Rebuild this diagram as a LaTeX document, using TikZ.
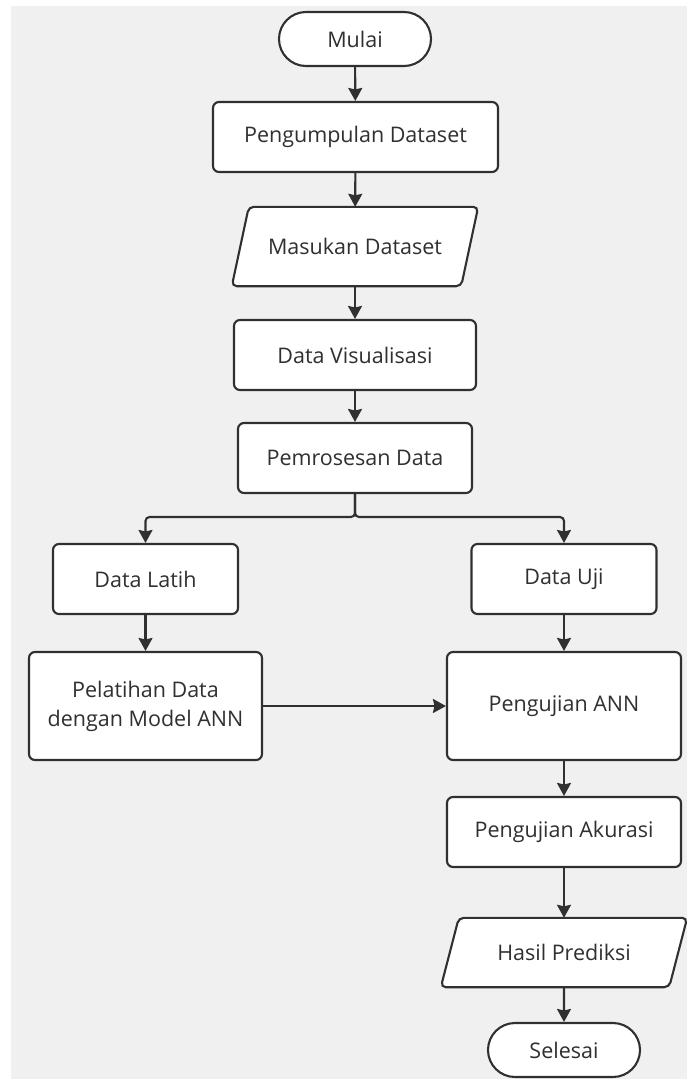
\documentclass[tikz,border=0pt]{standalone}
\usepackage{fontspec}
\setmainfont{Open Sans}
\usetikzlibrary{arrows.meta,shapes.misc,calc}
\definecolor{ink}{RGB}{48,48,48}
\definecolor{canvas}{RGB}{240,240,240}
\tikzset{
  base/.style={draw=ink, line width=2.1pt, fill=white, text=ink,
    font=\fontsize{21.5pt}{29pt}\selectfont, align=center, inner sep=0pt},
  procbox/.style={base, rectangle, rounded corners=6pt},
  term/.style={base, rounded rectangle, minimum width=152pt, minimum height=54pt},
  iobox/.style={rectangle, text=ink, font=\fontsize{21.5pt}{29pt}\selectfont,
    align=center, inner sep=0pt},
  arr/.style={draw=ink, line width=2.1pt,
    -{Stealth[length=13pt,width=14pt,inset=1.5pt]}},
}
% parallelogram outline around a named text node
\newcommand{\ioshape}[2]{%
  \draw[draw=ink, line width=2.1pt, fill=white, rounded corners=5pt]
    ($(#1.north west)+(#2,0)$) -- (#1.north east) --
    ($(#1.south east)-(#2,0)$) -- (#1.south west) -- cycle;}
\begin{document}
\begin{tikzpicture}[x=1pt,y=-1pt]
  \useasboundingbox (0,0) rectangle (687,1079);
  \fill[white] (0,0) rectangle (687,1079);
  \fill[canvas] (11,6) rectangle (687,1079);

  % main column
  \node[term] (mulai) at (355,39) {Mulai};
  \node[procbox, minimum width=285pt, minimum height=70pt] (kumpul) at (355.5,137) {Pengumpulan Dataset};
  \node[iobox, minimum width=246pt, minimum height=79pt] (masuk) at (355,246.5) {};
  \ioshape{masuk}{17}
  \node[iobox] at (masuk) {Masukan Dataset};
  \node[procbox, minimum width=242pt, minimum height=70pt] (visual) at (355,355) {Data Visualisasi};
  \node[procbox, minimum width=234pt, minimum height=70pt] (proses) at (355,458) {Pemrosesan Data};

  % split into training and testing branches
  \coordinate (split) at (355,517);
  \node[procbox, minimum width=185pt, minimum height=70pt] (latih) at (145.5,579) {Data Latih};
  \node[procbox, minimum width=185pt, minimum height=70pt] (uji) at (564,579) {Data Uji};
  \node[procbox, minimum width=233pt, minimum height=108pt] (latihann) at (145.5,706) {Pelatihan Data\\dengan Model ANN};
  \node[procbox, minimum width=234pt, minimum height=108pt] (ujiann) at (564,706) {Pengujian ANN};
  \node[procbox, minimum width=234pt, minimum height=70pt] (akurasi) at (564,832) {Pengujian Akurasi};
  \node[iobox, minimum width=246pt, minimum height=69pt] (hasil) at (564,952.5) {};
  \ioshape{hasil}{18}
  \node[iobox] at (hasil) {Hasil Prediksi};
  \node[term] (selesai) at (564,1050) {Selesai};

  % connectors
  \draw[arr] (mulai) -- (kumpul);
  \draw[arr] (kumpul) -- (masuk);
  \draw[arr] (masuk) -- (visual);
  \draw[arr] (visual) -- (proses);
  \draw[arr, rounded corners=4pt] (proses.south) -- (split) -| (latih.north);
  \draw[arr, rounded corners=4pt] (proses.south) -- (split) -| (uji.north);
  \draw[arr] (latih) -- (latihann);
  \draw[arr] (uji) -- (ujiann);
  \draw[arr] (latihann) -- (ujiann);
  \draw[arr] (ujiann) -- (akurasi);
  \draw[arr] (akurasi) -- (hasil);
  \draw[arr] (hasil) -- (selesai);
\end{tikzpicture}
\end{document}
